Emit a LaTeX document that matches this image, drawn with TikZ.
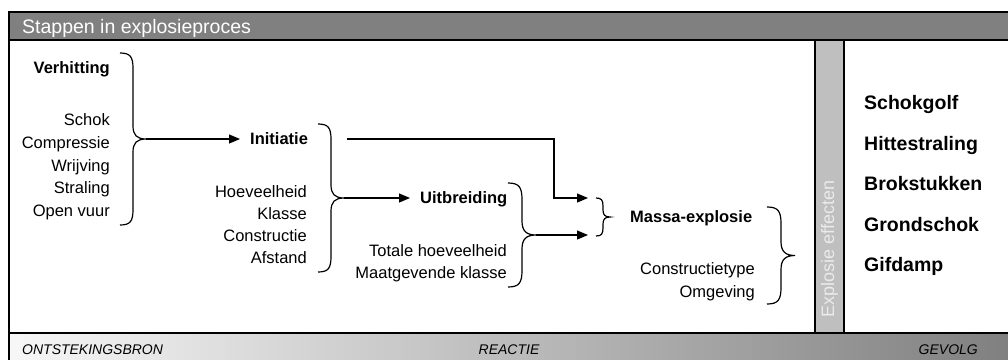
\documentclass[tikz,border=0pt]{standalone}
\usepackage{fontspec}
\setmainfont{Liberation Sans}
\usetikzlibrary{arrows.meta,positioning}

% curly brace: ends x, top y, bottom y, hook width
\newcommand{\explbrace}[4]{%
  \pgfmathsetmacro{\bx}{#1+#4}%
  \pgfmathsetmacro{\bm}{(#2+#3)/2}%
  \draw[curly] (#1,#2) .. controls (#1+0.8*#4,#2) and (\bx,#2+0.3*#4) .. (\bx,#2+1.2*#4)
    -- (\bx,\bm-#4) .. controls (\bx,\bm-0.3*#4) and (\bx+0.3*#4,\bm) .. (#1+2*#4,\bm)
    .. controls (\bx+0.3*#4,\bm) and (\bx,\bm+0.3*#4) .. (\bx,\bm+#4)
    -- (\bx,#3-1.2*#4) .. controls (\bx,#3-0.3*#4) and (#1+0.8*#4,#3) .. (#1,#3);}

\begin{document}
\begin{tikzpicture}[x=1pt,y=-1pt,
  item/.style={inner sep=0pt, text height=11.8pt, text depth=0pt, font=\fontsize{16.5}{18}\selectfont},
  bold/.style={item, font=\fontsize{16.5}{18}\selectfont\bfseries},
  stage/.style={bold, inner xsep=10pt},
  effect/.style={inner sep=0pt, text height=14pt, text depth=0pt, anchor=west, font=\fontsize{19.5}{22}\selectfont\bfseries},
  band/.style={inner sep=0pt, text height=10pt, text depth=0pt, font=\fontsize{14}{16}\selectfont\itshape},
  flow/.style={-{Triangle[length=11pt,width=9pt]}, line width=1.2pt},
  curly/.style={line width=1.2pt},
  frame/.style={line width=2pt}]

 \useasboundingbox (0,0) rectangle (1008,359);
 \clip (0,0) rectangle (1008,359);

% Header and bottom band
 \draw[frame, fill=gray] (9,12) rectangle (1012,40);
 \shade[left color=white!97!black, right color=gray] (9,333) rectangle (1012,362);
 \draw[frame] (9,333) -- (1012,333);
 \draw[frame] (9,40) -- (9,362);
 \draw[frame, fill=black!25] (815,40) rectangle (844,333);

 \node[anchor=base west, inner sep=0pt, white, font=\fontsize{19.5}{22}\selectfont] (title) at (22,33) {Stappen in explosieproces};
 \node[band, anchor=west] (source) at (22,349) {ONTSTEKINGSBRON};
 \node[band] (reaction) at (509,349) {REACTIE};
 \node[band, anchor=east] (result) at (978,349) {GEVOLG};
 \node[rotate=90, inner sep=0pt, white!92!black, font=\fontsize{18}{20}\selectfont] (effects) at (829.5,249) {Explosie effecten};

% Ignition sources
 \node[bold, anchor=east] (heat) at (110,68) {Verhitting};
 \node[item, anchor=east] (shock) at (110,120) {Schok};
 \node[item, anchor=east] (compr) at (110,143) {Compressie};
 \node[item, anchor=east] (fric) at (110,166) {Wrijving};
 \node[item, anchor=east] (rad) at (110,188) {Straling};
 \node[item, anchor=east] (fire) at (110,211) {Open vuur};

% Reaction
 \node[stage, anchor=west] (init) at (240,139) {Initiatie};
 \node[item, anchor=east] (qty) at (307,192) {Hoeveelheid};
 \node[item, anchor=east] (class) at (307,214) {Klasse};
 \node[item, anchor=east] (constr) at (307,236) {Constructie};
 \node[item, anchor=east] (dist) at (307,258) {Afstand};

 \node[stage, anchor=west] (spread) at (410,198) {Uitbreiding};
 \node[item, anchor=east] (total) at (507,251) {Totale hoeveelheid};
 \node[item, anchor=east] (govern) at (507,273) {Maatgevende klasse};

 \node[bold, anchor=west] (mass) at (630,217) {Massa-explosie};
 \node[item, anchor=east] (ctype) at (755,269) {Constructietype};
 \node[item, anchor=east] (env) at (755,292) {Omgeving};

% Effects
 \node[effect] (wave) at (864,102.5) {Schokgolf};
 \node[effect] (heatrad) at (864,143) {Hittestraling};
 \node[effect] (debris) at (864,183.5) {Brokstukken};
 \node[effect] (ground) at (864,224) {Grondschok};
 \node[effect] (toxic) at (864,264) {Gifdamp};

% Braces
 \explbrace{120}{53}{225}{13}
 \coordinate (b1tip) at (146,139);
 \explbrace{318}{124}{272}{13}
 \coordinate (b2tip) at (344,198);
 \explbrace{508}{183}{287}{14}
 \coordinate (b3tip) at (536,235);
 \explbrace{596}{198}{236}{7}
 \explbrace{767}{207}{304}{14}

% Connectors
 \coordinate (iout) at (347,139);
 \coordinate (bend) at (554,198);
 \coordinate (m1) at (588,198);
 \coordinate (m2) at (588,235);
 \draw[flow] (b1tip) -- (init.west);
 \draw[flow] (b2tip) -- (spread.west);
 \draw[flow] (iout) -| (bend) -- (m1);
 \draw[flow] (b3tip) -- (m2);

\end{tikzpicture}
\end{document}
